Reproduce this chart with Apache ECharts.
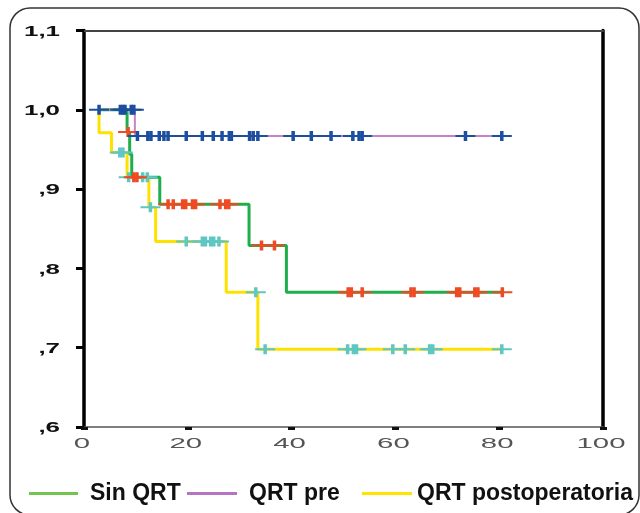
<!DOCTYPE html>
<html><head><meta charset="utf-8">
<script src="https://cdn.jsdelivr.net/npm/echarts@6/dist/echarts.min.js"></script>
<style>html,body{margin:0;padding:0;background:#fff}#c{width:640px;height:513px}</style>
</head><body><div id="c"></div>
<script>
// ---- data ----
const seriesNames = ['Sin QRT', 'QRT pre', 'QRT postoperatoria'];

// Kaplan-Meier steps: [time, survival after time]
const sinQrtSteps = [[2.9,1.0],[8.3,0.972],[8.8,0.944],[9.2,0.915],[14.6,0.881],[31.8,0.829],[39.0,0.770],[80.6,0.770]];
const sinQrtCensored = [[8.5,0.972],[9.6,0.915],[10.2,0.915],[16.2,0.881],[17.2,0.881],[19.0,0.881],[19.6,0.881],[20.9,0.881],[21.5,0.881],[26.2,0.881],[27.3,0.881],[27.9,0.881],[34.2,0.829],[36.7,0.829],[50.9,0.770],[51.5,0.770],[53.6,0.770],[63.0,0.770],[63.6,0.770],[71.8,0.770],[72.4,0.770],[75.3,0.770],[75.9,0.770],[80.6,0.770]];

const qrtPreSteps = [[2.9,1.0],[9.8,0.967],[80.5,0.967]];
const qrtPreCensored = [[2.9,1.0],[7.0,1.0],[7.5,1.0],[7.9,1.0],[9.1,1.0],[9.6,1.0],[10.3,0.967],[12.3,0.967],[12.9,0.967],[14.5,0.967],[15.4,0.967],[16.2,0.967],[19.7,0.967],[22.8,0.967],[24.9,0.967],[26.6,0.967],[28.0,0.967],[28.4,0.967],[31.9,0.967],[32.6,0.967],[33.5,0.967],[40.3,0.967],[43.8,0.967],[47.6,0.967],[51.8,0.967],[53.0,0.967],[53.6,0.967],[73.5,0.967],[80.5,0.967]];

const qrtPostSteps = [[2.9,1.0],[2.9,0.971],[5.3,0.946],[8.3,0.915],[12.5,0.877],[13.8,0.834],[27.4,0.770],[33.5,0.698],[80.5,0.698]];
const qrtPostCensored = [[6.9,0.946],[7.5,0.946],[8.6,0.915],[11.3,0.915],[12.2,0.915],[12.8,0.877],[19.7,0.834],[22.8,0.834],[23.4,0.834],[24.4,0.834],[25.0,0.834],[26.0,0.834],[33.1,0.770],[34.9,0.698],[50.8,0.698],[51.9,0.698],[52.5,0.698],[59.5,0.698],[61.9,0.698],[66.6,0.698],[67.2,0.698],[80.5,0.698]];

const xTicks = [0, 20, 40, 60, 80, 100];
const xTickLabels = ['0', '20', '40', '60', '80', '100'];
const yTicks = [0.6, 0.7, 0.8, 0.9, 1.0, 1.1];
const yTickLabels = [',6', ',7', ',8', ',9', '1,0', '1,1'];

// ---- chart ----
const censorSymbol = 'path://M8.25,0h3.5v4h8.25v2h-8.25v4h-3.5v-4h-8.25v-2h8.25z';
const FONT = '"Liberation Sans", Arial, sans-serif';

const chart = echarts.init(document.getElementById('c'), null, {renderer: 'canvas'});

function lineSeries(name, data, color, width, z) {
  return {type: 'line', name: name, data: data, step: 'end', showSymbol: false, symbol: 'none',
    lineStyle: {color: color, width: width}, itemStyle: {color: color}, z: z, silent: true, animation: false};
}
function censorSeries(name, data, color, z) {
  return {type: 'scatter', name: name, data: data, symbol: censorSymbol, symbolSize: [20, 10],
    itemStyle: {color: color, opacity: 1}, z: z, silent: true, animation: false};
}
function legendItem(name, left, color, width, pad) {
  return {show: true, left: left, top: 477, orient: 'horizontal', itemWidth: width, itemHeight: 3,
    selectedMode: false, data: [{name: name, icon: 'rect', itemStyle: {color: color}}],
    textStyle: {fontFamily: FONT, fontWeight: 'bold', fontSize: 23, color: '#111', padding: [0, 0, 0, pad]}};
}

const axisCommon = {splitLine: {show: false}, axisLabel: {show: false}};

const option = {
  animation: false,
  backgroundColor: '#fff',
  grid: {left: 84, right: 37, top: 30.5, bottom: 86, containLabel: false},
  xAxis: [
    Object.assign({type: 'value', min: 0, max: 100, interval: 20, position: 'bottom',
      axisLine: {show: true, onZero: false, lineStyle: {color: '#555', width: 1.5}},
      axisTick: {show: true, length: 3, lineStyle: {color: '#111', width: 7}}}, axisCommon),
    Object.assign({type: 'value', min: 0, max: 100, interval: 20, position: 'top',
      axisLine: {show: true, onZero: false, lineStyle: {color: '#444', width: 2}},
      axisTick: {show: false}}, axisCommon)
  ],
  yAxis: [
    Object.assign({type: 'value', min: 0.6, max: 1.1, interval: 0.1, position: 'left',
      axisLine: {show: true, onZero: false, lineStyle: {color: '#000', width: 3.5}},
      axisTick: {show: true, length: 8, lineStyle: {color: '#000', width: 3}}}, axisCommon),
    Object.assign({type: 'value', min: 0.6, max: 1.1, interval: 0.1, position: 'right',
      axisLine: {show: true, onZero: false, lineStyle: {color: '#000', width: 3.5}},
      axisTick: {show: false}}, axisCommon)
  ],
  legend: [
    legendItem(seriesNames[0], 24, '#74c550', 49, 7),
    legendItem(seriesNames[1], 182, '#b874c4', 50, 7),
    legendItem(seriesNames[2], 357, '#ffe400', 50, 0)
  ],
  series: [
    lineSeries(seriesNames[2], qrtPostSteps, '#ffe100', 3, 2),
    lineSeries(seriesNames[0], sinQrtSteps, '#1fae4b', 3, 3),
    lineSeries(seriesNames[1], qrtPreSteps, '#c583c6', 2, 4),
    censorSeries('QRT postoperatoria censurado', qrtPostCensored, '#5ec6c3', 5),
    censorSeries('Sin QRT censurado', sinQrtCensored, '#ef4a23', 6),
    censorSeries('QRT pre censurado', qrtPreCensored, '#1c4f9f', 7)
  ]
};
chart.setOption(option);

// tick labels (wide, stretched glyphs as in the reference), placed via the axis scales
const graphics = [{
  type: 'rect', id: 'frame', z: 0, silent: true,
  shape: {x: 10, y: 8, width: 629, height: 507, r: 20},
  style: {fill: 'none', stroke: '#333', lineWidth: 1.5}
}];
yTicks.forEach(function (v, i) {
  const p = chart.convertToPixel({xAxisIndex: 0, yAxisIndex: 0}, [0, v]);
  graphics.push({type: 'text', id: 'yl' + i, x: p[0] - 24, y: p[1] + 1.5, scaleX: 1.85, silent: true,
    style: {text: yTickLabels[i], fill: '#111', font: 'bold 14px ' + FONT, textAlign: 'right', textVerticalAlign: 'middle'}});
});
xTicks.forEach(function (v, i) {
  const p = chart.convertToPixel({xAxisIndex: 0, yAxisIndex: 0}, [v, 0.6]);
  graphics.push({type: 'text', id: 'xl' + i, x: p[0] - 2, y: p[1] + 17, scaleX: 2.1, silent: true,
    style: {text: xTickLabels[i], fill: '#555', font: '14px ' + FONT, textAlign: 'center', textVerticalAlign: 'middle'}});
});
chart.setOption({graphic: graphics});
</script>
</body></html>
